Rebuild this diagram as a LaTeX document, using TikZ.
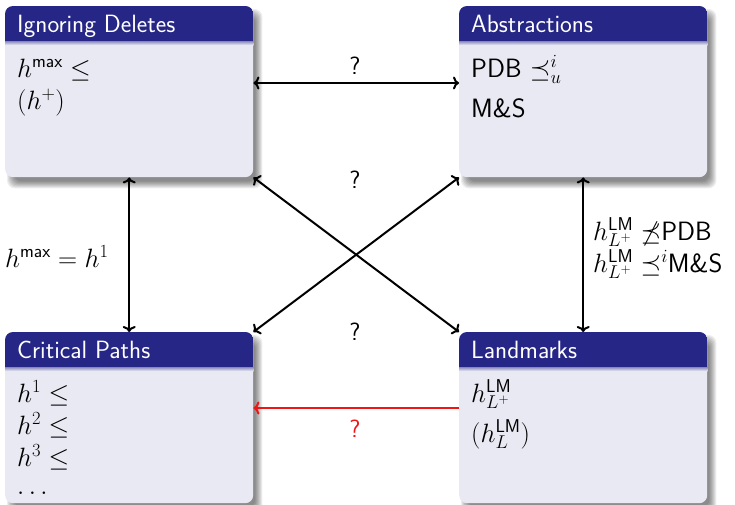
\RequirePackage{fix-cm}
\documentclass[tikz,border=0pt]{standalone}
\usepackage{fontspec}
\renewcommand{\familydefault}{\sfdefault}
\usetikzlibrary{calc,backgrounds,arrows.meta}
\definecolor{titlebg}{RGB}{38,38,134}
\definecolor{bodybg}{RGB}{233,233,243}
\definecolor{redarr}{RGB}{240,20,20}
\newcommand{\titlefont}{\fontsize{25}{30}\selectfont}
\newcommand{\bodyfont}{\fontsize{26.5}{32}\selectfont}
\tikzset{
  blockbody/.style={rectangle, fill=bodybg, rounded corners=8pt, minimum width=248pt, minimum height=171pt, inner sep=0pt, anchor=north west},
  titletxt/.style={anchor=base west, inner sep=0pt, text=white, font=\titlefont},
  txt/.style={anchor=base west, inner sep=0pt, font=\bodyfont},
  qlabel/.style={anchor=base, inner sep=0pt, font=\titlefont},
  arr/.style={line width=2pt, {To[length=6pt,width=13pt]}-{To[length=6pt,width=13pt]}},
  redarrow/.style={line width=2pt, redarr, -{To[length=6pt,width=13pt]}}
}
\newcommand{\mkblock}[2]{%
  \begin{scope}
    \clip[rounded corners=8pt] (#1.north west) rectangle (#1.south east);
    \fill[titlebg] (#1.north west) rectangle ($(#1.north east)+(0,35)$);
    \shade[top color=titlebg!50!bodybg, bottom color=bodybg] ($(#1.north west)+(0,35)$) rectangle ($(#1.north east)+(0,39)$);
  \end{scope}
  \node[titletxt] (#1t) at ($(#1.north west)+(12,26)$) {#2};
  \begin{pgfonlayer}{background}
    \foreach \e in {4,3,...,-3}{
      \fill[black,opacity=0.07,rounded corners=8pt] ($(#1.north west)+(6-\e,7-\e)$) rectangle ($(#1.south east)+(5+\e,7+\e)$);
    }
  \end{pgfonlayer}
}
\begin{document}
\begin{tikzpicture}[x=1pt,y=-1pt]
\useasboundingbox (0,0) rectangle (735,504);
\begin{pgfonlayer}{background}
  \fill[white] (0,0) rectangle (735,504);
\end{pgfonlayer}

\node[blockbody] (b1) at (5,6) {};
\node[blockbody] (b2) at (459,6) {};
\node[blockbody] (b3) at (5,332) {};
\node[blockbody] (b4) at (459,332) {};

\mkblock{b1}{Ignoring Deletes}
\mkblock{b2}{Abstractions}
\mkblock{b3}{Critical Paths}
\mkblock{b4}{Landmarks}

% block bodies
\node[txt] (b1l1) at ($(b1.north west)+(12,71)$) {$h^{\mathsf{max}}\leq$};
\node[txt] (b1l2) at ($(b1.north west)+(12,103)$) {$(h^{+})$};
\node[txt] (b2l1) at ($(b2.north west)+(12,71)$) {PDB $\preceq^{i}_{u}$};
\node[txt] (b2l2) at ($(b2.north west)+(12,111)$) {M\&S};
\node[txt] (b3l1) at ($(b3.north west)+(12,70)$) {$h^{1}\leq$};
\node[txt] (b3l2) at ($(b3.north west)+(12,102)$) {$h^{2}\leq$};
\node[txt] (b3l3) at ($(b3.north west)+(12,134)$) {$h^{3}\leq$};
\node[txt] (b3l4) at ($(b3.north west)+(12,162)$) {$\ldots$};
\node[txt] (b4l1) at ($(b4.north west)+(12,70)$) {$h^{\mathsf{LM}}_{L^{+}}$};
\node[txt] (b4l2) at ($(b4.north west)+(12,110)$) {$(h^{\mathsf{LM}}_{L})$};

% connectors
\coordinate (hl) at (0,83);
\draw[arr] (b1.east |- hl) -- (b2.west |- hl);
\draw[arr] (b1.south) -- (b3.north);
\draw[arr] (b2.south) -- (b4.north);
\draw[arr] (b1.south east) -- (b4.north west);
\draw[arr] (b2.south west) -- (b3.north east);
\coordinate (rl) at (0,408);
\draw[redarrow] (b4.west |- rl) -- (b3.east |- rl);

% labels
\node[qlabel] (q1) at (355,74) {?};
\node[qlabel] (q2) at (355,188) {?};
\node[qlabel] (q3) at (355,340) {?};
\node[qlabel, text=redarr] (q4) at (355,437) {?};
\node[txt] (lleft) at (5,267) {$h^{\mathsf{max}}=h^{1}$};
\node[txt] (lr1) at (593,240) {$h^{\mathsf{LM}}_{L^{+}}\not\preceq$PDB};
\node[txt] (lr2) at (593,272) {$h^{\mathsf{LM}}_{L^{+}}\preceq^{i}$M\&S};
\end{tikzpicture}
\end{document}
